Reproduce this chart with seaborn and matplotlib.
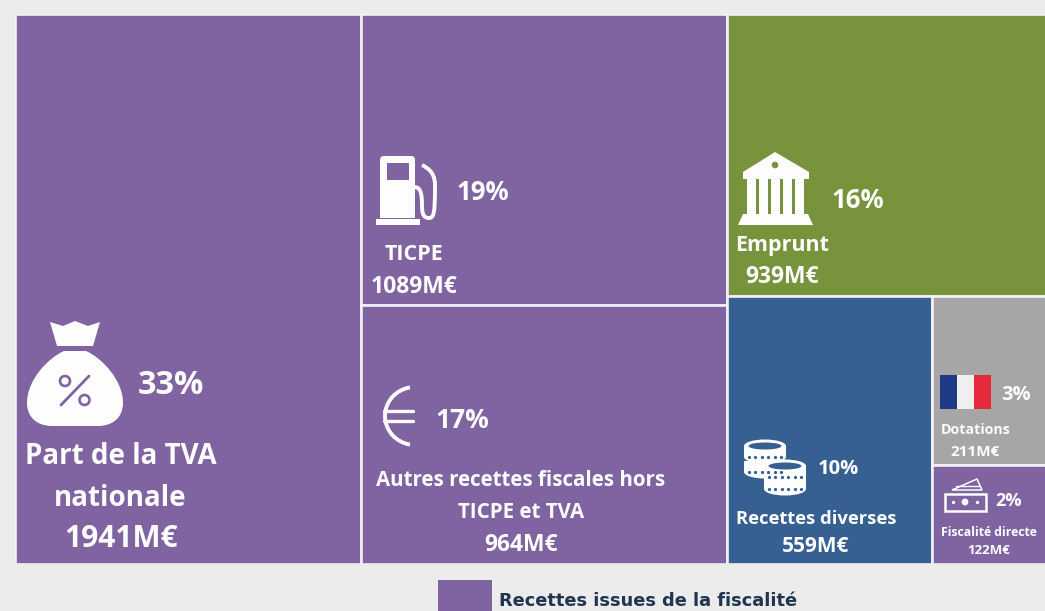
import numpy as np
import matplotlib.pyplot as plt
import seaborn as sns
from matplotlib.patches import Rectangle, Polygon, PathPatch, Circle, Ellipse, Arc
from matplotlib.path import Path

# values in M euros
categories = ['Part de la TVA', 'TICPE', 'Autres recettes', 'Emprunt',
              'Recettes diverses', 'Dotations', 'Fiscalité directe']
values = [1941, 1089, 964, 939, 559, 211, 122]
groups = ['fisc', 'fisc', 'fisc', 'emprunt', 'diverses', 'dotations', 'fisc']

colors = {'fisc': '#8063A1', 'emprunt': '#77933C', 'diverses': '#366092', 'dotations': '#A6A6A6'}
BG = '#ECECEC'
EDGE = '#F3F0F7'
WHITE = '#FDFDFD'
FONT = ['Open Sans', 'DejaVu Sans']


def treemap_rects(v):
    # slice layout: 1 column, 2 stacked, then emprunt on top of the small ones
    total = float(sum(v))
    c1, c2, c3 = v[0], v[1] + v[2], sum(v[3:])
    x2, x3 = c1, c1 + c2
    H = 1.0
    r = []
    r.append((0, 0, c1, H))
    h = v[1] / c2
    r.append((x2, 0, c2, h))
    r.append((x2, h, c2, H - h))
    h = v[3] / c3
    r.append((x3, 0, c3, h))
    low = sum(v[4:])
    w = c3 * v[4] / low
    r.append((x3, h, w, H - h))
    h2 = (H - h) * v[5] / (v[5] + v[6])
    r.append((x3 + w, h, c3 - w, h2))
    r.append((x3 + w, h + h2, c3 - w, H - h - h2))
    return r, total


sns.set_theme(style='white')
plt.rcParams['font.family'] = FONT

fig = plt.figure(figsize=(10.45, 6.11), dpi=100, facecolor=BG)

# treemap axes runs past the right edge, the source picture is cut there
ax = fig.add_axes([15 / 1045, 1 - 563.5 / 611, 1039 / 1045, 549.5 / 611])
rects, total = treemap_rects(values)
for (x, y, w, h), g in zip(rects, groups):
    ax.add_patch(Rectangle((x, y), w, h, facecolor=colors[g], edgecolor=EDGE, lw=1.9))
ax.set_xlim(0, total)
ax.set_ylim(1, 0)
ax.axis('off')

# overlay in pixels for labels and icons
ov = fig.add_axes([0, 0, 1, 1])
ov.set_xlim(0, 1045)
ov.set_ylim(611, 0)
ov.axis('off')


def lab(x, y, s, size, weight='bold', color=WHITE):
    ov.text(x, y, s, fontsize=size, fontweight=weight, color=color, ha='center', va='center')


lab(171, 385, '33%', 23.5)
lab(121, 457, 'Part de la TVA', 20)
lab(120, 499, 'nationale', 20)
lab(121, 539, '1941M€', 21.5)

lab(483, 193, '19%', 18.5)
lab(414, 255, 'TICPE', 15.5)
lab(414, 287, '1089M€', 16.5)

lab(858, 201, '16%', 18.5)
lab(782, 246, 'Emprunt', 15.5)
lab(782, 277, '939M€', 16.5)

lab(462, 420, '17%', 19)
lab(521, 481, 'Autres recettes fiscales hors', 14.8)
lab(521, 513, 'TICPE et TVA', 14.8)
lab(521, 545, '964M€', 16.5)

lab(838, 469, '10%', 14.5)
lab(816, 519, 'Recettes diverses', 13.2)
lab(816, 546, '559M€', 15)

lab(1016, 395, '3%', 14.5)
lab(976, 430, 'Dotations', 10.2)
lab(975, 452, '211M€', 11)

lab(1009, 501, '2%', 13)
lab(989, 533, 'Fiscalité directe', 8.8)
lab(989, 551, '122M€', 9.5)

# money bag
ov.add_patch(Polygon([(50, 322), (63, 326), (75, 321), (88, 326), (100, 322), (93, 346), (57, 346)],
                     fc=WHITE, ec='none'))
verts = [(64, 351), (48, 358), (27, 380), (27, 403), (27, 418), (38, 426), (52, 426), (98, 426),
         (112, 426), (123, 418), (123, 403), (123, 380), (102, 358), (86, 351), (64, 351)]
codes = [Path.MOVETO] + [Path.CURVE4] * 6 + [Path.LINETO] + [Path.CURVE4] * 6 + [Path.LINETO]
ov.add_patch(PathPatch(Path(verts, codes), fc=WHITE, ec='none'))
purple = colors['fisc']
ov.add_patch(Circle((65, 381), 5, fc='none', ec=purple, lw=1.9))
ov.add_patch(Circle((84.5, 400), 5, fc='none', ec=purple, lw=1.9))
ov.plot([61, 89], [405, 376], color=purple, lw=2)

# fuel pump
ov.add_patch(PathPatch(Path([(380, 218), (380, 160), (380, 156), (384, 156), (411, 156), (415, 156),
                             (415, 160), (415, 218), (380, 218)],
                            [Path.MOVETO, Path.LINETO, Path.CURVE3, Path.CURVE3, Path.LINETO,
                             Path.CURVE3, Path.CURVE3, Path.LINETO, Path.CLOSEPOLY]),
                       fc=WHITE, ec='none'))
ov.add_patch(Rectangle((376, 219), 44, 5.5, fc=WHITE, ec='none'))
ov.add_patch(Rectangle((387, 163), 22, 17, fc=purple, ec='none'))
hose = Path([(422, 165), (432, 170), (435, 176), (435, 186), (435, 213), (434, 218), (429, 218),
             (423, 218), (422, 213), (422, 205), (422, 192), (420, 187), (414, 187)],
            [Path.MOVETO] + [Path.CURVE4] * 12)
ov.add_patch(PathPatch(hose, fc='none', ec=WHITE, lw=2.8))

# bank
ov.add_patch(Polygon([(775, 152), (809, 172), (809, 179), (743, 179), (743, 172)], fc=WHITE, ec='none'))
ov.add_patch(Circle((775, 165), 3.3, fc=colors['emprunt'], ec='none'))
for cx in [751.5, 763.5, 775.5, 787.5, 799.5]:
    ov.add_patch(Rectangle((cx - 4.2, 179), 8.4, 36, fc=WHITE, ec='none'))
ov.add_patch(Polygon([(743, 214), (808, 214), (813, 225), (738, 225)], fc=WHITE, ec='none'))

# euro
ov.add_patch(Arc((415, 416), 60, 58, theta1=100, theta2=260, color=WHITE, lw=2.8))
ov.plot([384, 413], [411, 411], color=WHITE, lw=2.4)
ov.plot([384, 413], [421, 421], color=WHITE, lw=2.4)


# coins
def coin_stack(cx, ys, w=38, h=13):
    blue = colors['diverses']
    for y in ys:
        ov.add_patch(Rectangle((cx - w / 2, y), w, 11, fc=WHITE, ec='none'))
        ov.add_patch(Ellipse((cx, y + 11), w, h, fc=WHITE, ec='none'))
        ov.plot(np.linspace(cx - w / 2 + 5, cx + w / 2 - 5, 6), [y + 11] * 6, ls='none',
                marker='o', ms=1.3, color=blue)
    top = ys[-1]
    ov.add_patch(Ellipse((cx, top), w, h, fc=WHITE, ec='none'))
    ov.add_patch(Ellipse((cx, top), w - 9, h - 6, fc=blue, ec='none'))


coin_stack(765, [461, 446], w=42)
coin_stack(785, [478, 466], w=42)

# flag
ov.add_patch(Rectangle((940, 375), 17, 34, fc='#1E3A85', ec='none'))
ov.add_patch(Rectangle((957, 375), 17, 34, fc='#EFEFEF', ec='none'))
ov.add_patch(Rectangle((974, 375), 17, 34, fc='#E8293C', ec='none'))

# banknotes
ov.add_patch(Rectangle((945, 494), 41, 17, fc='none', ec=WHITE, lw=1.8))
ov.add_patch(Circle((965, 502), 3.4, fc=WHITE, ec='none'))
ov.plot([953, 977], [502, 502], ls='none', marker='o', ms=1.4, color=WHITE)
ov.add_patch(Polygon([(952, 490), (977, 479), (982, 490)], fc='none', ec=WHITE, lw=1.1))
ov.plot([956, 980], [486, 486], color=WHITE, lw=1)

# legend, cut by the bottom of the picture
ov.add_patch(Rectangle((438, 580), 54, 40, fc=purple, ec='none'))
ov.text(499, 601, 'Recettes issues de la fiscalité', fontsize=12.8, fontweight='bold', color='#1F3550',
        family='DejaVu Sans', ha='left', va='center')

fig.savefig('out.png', dpi=100, facecolor=BG)
